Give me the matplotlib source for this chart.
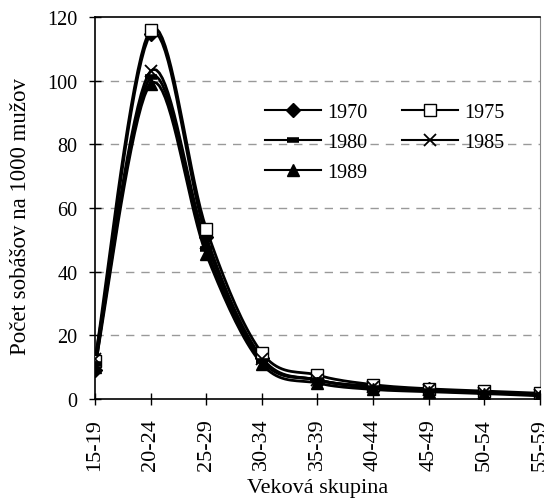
import numpy as np
import matplotlib
matplotlib.use("Agg")
import matplotlib.pyplot as plt

plt.rcParams['font.family'] = ['Liberation Serif', 'DejaVu Serif']

groups = ["15-19", "20-24", "25-29", "30-34", "35-39", "40-44", "45-49", "50-54", "55-59"]
y1970 = [9, 114.5, 51, 13, 6, 4, 3, 2, 1.5]
y1975 = [12, 116, 53.5, 14.5, 7.5, 4.5, 3.2, 2.5, 1.8]
y1980 = [11, 101, 47, 12, 6, 3.5, 2.5, 2, 1.2]
y1985 = [12.5, 103, 49, 12.5, 6, 3.8, 2.8, 2, 1.3]
y1989 = [10, 99, 45.5, 11, 5, 3, 2.3, 1.7, 1]


def smooth(x, y, n=20):
    # Excel-like smoothed line (Catmull-Rom bezier), only for drawing the curve
    x = np.asarray(x, float)
    y = np.asarray(y, float)
    px, py = [], []
    for i in range(len(x) - 1):
        x0, y0 = (x[i - 1], y[i - 1]) if i > 0 else (x[i], y[i])
        x3, y3 = (x[i + 2], y[i + 2]) if i + 2 < len(x) else (x[i + 1], y[i + 1])
        c1 = (x[i] + (x[i + 1] - x0) / 6, y[i] + (y[i + 1] - y0) / 6)
        c2 = (x[i + 1] - (x3 - x[i]) / 6, y[i + 1] - (y3 - y[i]) / 6)
        t = np.linspace(0, 1, n)
        bx = (1 - t) ** 3 * x[i] + 3 * (1 - t) ** 2 * t * c1[0] + 3 * (1 - t) * t ** 2 * c2[0] + t ** 3 * x[i + 1]
        by = (1 - t) ** 3 * y[i] + 3 * (1 - t) ** 2 * t * c1[1] + 3 * (1 - t) * t ** 2 * c2[1] + t ** 3 * y[i + 1]
        px.extend(bx)
        py.extend(by)
    return px, py


fig = plt.figure(figsize=(5.44, 5.02), dpi=100)
ax = fig.add_axes([0.1746, 0.2032, 0.818, 0.761])

x = np.arange(len(groups))
series = {
    "1970": (y1970, dict(marker='D', markersize=7, markerfacecolor='black')),
    "1975": (y1975, dict(marker='s', markersize=8, markerfacecolor='white')),
    "1980": (y1980, dict(marker='_', markersize=9, markeredgewidth=4)),
    "1985": (y1985, dict(marker='x', markersize=9, markeredgewidth=1.3)),
    "1989": (y1989, dict(marker='^', markersize=8, markerfacecolor='black')),
}
handles = {}
for name, (vals, st) in series.items():
    sx, sy = smooth(x, vals)
    ax.plot(sx, sy, color='black', lw=2, zorder=3)
    ax.plot(x, vals, linestyle='none', color='black', markeredgecolor='black', zorder=4, **st)
    h, = ax.plot([], [], color='black', lw=1.5, markeredgecolor='black', **st)
    handles[name] = h

ax.set_xlim(0, 8)
ax.set_ylim(0, 120)
ax.set_yticks(range(0, 121, 20))
ax.set_xticks(x)
ax.set_xticklabels(groups, rotation=90, fontsize=16)
ax.tick_params(axis='y', labelsize=14.5, direction='inout', length=9, width=1, pad=8)
ax.tick_params(axis='x', direction='inout', length=9, width=1, pad=9)
for yv in range(20, 120, 20):
    ax.axhline(yv, color='#999999', lw=1, ls=(0, (6, 5)), zorder=1)
ax.spines['right'].set_color('#888888')
for s in ['left', 'bottom', 'top']:
    ax.spines[s].set_linewidth(1.2)

ax.set_xlabel('Veková skupina', fontsize=16, labelpad=6)
ax.set_ylabel('Počet sobášov na 1000 mužov', fontsize=16.5)
ax.yaxis.set_label_coords(-0.143, 0.48)

# row-wise order like the original: 1970 1975 / 1980 1985 / 1989
order = ["1970", "1980", "1989", "1975", "1985"]
ax.legend([handles[k] for k in order], order, ncol=2, loc='upper left',
          bbox_to_anchor=(0.382, 0.775), frameon=False, fontsize=14.5,
          borderpad=0, borderaxespad=0,
          handlelength=2.8, handletextpad=0.3, columnspacing=1.7, labelspacing=0.55)

fig.savefig('out.png', dpi=100)
